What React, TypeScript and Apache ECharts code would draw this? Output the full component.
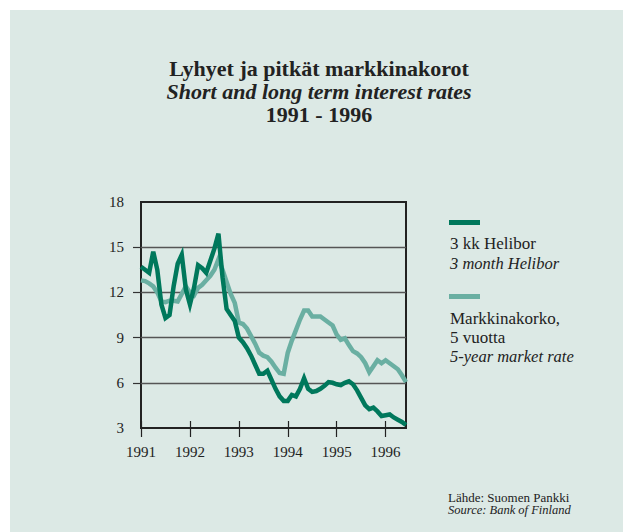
import React, { useEffect, useRef } from "react";
import * as echarts from "echarts";

const years = ["1991", "1992", "1993", "1994", "1995", "1996"];
const monthsInLastYear = 6;

// 3 kk Helibor (monthly, Jan 1991 – Jun 1996)
const helibor = [
  13.7, 13.5, 13.3, 14.7, 13.5, 11.2, 10.3, 10.5, 12.4, 13.9, 14.5, 12.2,
  11.2, 12.3, 13.8, 13.6, 13.3, 14.1, 14.9, 15.9, 13.0, 10.9, 10.5, 10.1,
  9.0, 8.7, 8.3, 7.8, 7.2, 6.6, 6.6, 6.8, 6.2, 5.6, 5.1, 4.8,
  4.8, 5.2, 5.1, 5.6, 6.3, 5.6, 5.4, 5.45, 5.6, 5.8, 6.05, 6.0,
  5.9, 5.85, 6.0, 6.1, 5.9, 5.5, 5.0, 4.5, 4.25, 4.35, 4.1, 3.8,
  3.85, 3.9, 3.7, 3.55, 3.4, 3.2,
];

// Markkinakorko, 5 vuotta
const market5y = [
  12.8, 12.75, 12.6, 12.4, 12.0, 11.4, 11.35, 11.45, 11.45, 11.4, 11.9, 12.4,
  12.0, 11.8, 12.3, 12.5, 12.8, 13.1, 13.5, 14.2, 13.5, 12.7, 11.9, 11.3,
  10.0, 9.9, 9.6, 9.1, 8.6, 8.0, 7.8, 7.7, 7.4, 7.0, 6.65, 6.6,
  8.0, 8.8, 9.5, 10.2, 10.8, 10.8, 10.4, 10.4, 10.4, 10.2, 10.0, 9.8,
  9.2, 8.85, 8.95, 8.5, 8.1, 7.95, 7.7, 7.3, 6.7, 7.1, 7.5, 7.3,
  7.5, 7.3, 7.1, 6.9, 6.5, 6.05,
];

const yTicks = [6, 9, 12, 15];

const months: string[] = [];
years.forEach((y, yi) => {
  const n = yi === years.length - 1 ? monthsInLastYear : 12;
  for (let m = 1; m <= n; m++) months.push(`${y}-${String(m).padStart(2, "0")}`);
});

const DARK = "#00785c";
const LIGHT = "#6aafa2";
const BG = "#dce9e5";
const TXT = "#222";
const FONT = "'Liberation Serif', 'DejaVu Serif', serif";

export default function App() {
  const ref = useRef<HTMLDivElement>(null);
  useEffect(() => {
    if (!ref.current) return;
    const chart = echarts.init(ref.current, undefined, { renderer: "svg" });
    const isYear = (i: number) => i % 12 === 0;
    const txt = (x: number, y: number, text: string, opts: any = {}) => ({
      type: "text",
      x,
      y,
      style: {
        text,
        fill: TXT,
        fontFamily: FONT,
        fontSize: 17,
        textVerticalAlign: "middle",
        ...opts,
      },
    });
    chart.setOption({
      animation: false,
      backgroundColor: "#ffffff",
      textStyle: { fontFamily: FONT },
      grid: {
        left: 141,
        top: 202,
        width: 265,
        height: 226,
        show: true,
        borderColor: "#222",
        borderWidth: 2,
        backgroundColor: "transparent",
      },
      xAxis: [
        {
          type: "category",
          data: months,
          boundaryGap: false,
          axisLine: { show: false },
          axisTick: {
            show: true,
            interval: (i: number) => isYear(i),
            length: 9,
            lineStyle: { color: "#222", width: 1.2 },
          },
          axisLabel: {
            interval: (i: number) => isYear(i),
            formatter: (v: string) => v.slice(0, 4),
            color: TXT,
            fontFamily: FONT,
            fontSize: 15,
            margin: 16,
          },
          splitLine: { show: false },
        },
        {
          type: "category",
          data: months,
          boundaryGap: false,
          position: "bottom",
          axisLine: { show: false },
          axisTick: {
            show: true,
            inside: true,
            interval: (i: number) => isYear(i),
            length: 7,
            lineStyle: { color: "#222", width: 1.2 },
          },
          axisLabel: { show: false },
          splitLine: { show: false },
        },
      ],
      yAxis: {
        type: "value",
        min: 3,
        max: 18,
        interval: 3,
        axisLine: { show: false },
        axisTick: {
          show: true,
          length: 8,
          customValues: yTicks,
          lineStyle: { color: "#333", width: 1.2 },
        },
        axisLabel: {
          color: TXT,
          fontFamily: FONT,
          fontSize: 15,
          margin: 17,
        },
        splitLine: { show: true, lineStyle: { color: "#555", width: 1.3 } },
      },
      series: [
        {
          name: "Markkinakorko, 5 vuotta",
          type: "line",
          data: market5y,
          showSymbol: false,
          symbol: "none",
          lineStyle: { color: LIGHT, width: 4.5, join: "miter" },
          z: 3,
        },
        {
          name: "3 kk Helibor",
          type: "line",
          data: helibor,
          showSymbol: false,
          symbol: "none",
          lineStyle: { color: DARK, width: 4.5, join: "miter" },
          z: 4,
        },
      ],
      graphic: [
        {
          type: "rect",
          z: -100,
          silent: true,
          shape: { x: 10, y: 10, width: 613, height: 522 },
          style: { fill: BG },
        },
        txt(319, 68, "Lyhyet ja pitkät markkinakorot", {
          fontSize: 22,
          fontWeight: "bold",
          textAlign: "center",
        }),
        txt(319, 91, "Short and long term interest rates", {
          fontSize: 22,
          fontWeight: "bold",
          fontStyle: "italic",
          textAlign: "center",
        }),
        txt(319, 114, "1991 - 1996", {
          fontSize: 22,
          fontWeight: "bold",
          textAlign: "center",
        }),
        {
          type: "rect",
          shape: { x: 449, y: 220, width: 31, height: 5 },
          style: { fill: DARK },
        },
        txt(450, 243, "3 kk Helibor"),
        txt(450, 263, "3 month Helibor", { fontStyle: "italic", fontSize: 16.5 }),
        {
          type: "rect",
          shape: { x: 449, y: 294, width: 31, height: 5 },
          style: { fill: LIGHT },
        },
        txt(450, 318, "Markkinakorko,"),
        txt(450, 337, "5 vuotta"),
        txt(450, 356, "5-year market rate", { fontStyle: "italic", fontSize: 16.5 }),
        txt(448, 497, "Lähde: Suomen Pankki", { fontSize: 13 }),
        txt(448, 510, "Source: Bank of Finland", { fontSize: 12.5, fontStyle: "italic" }),
      ],
    });
    return () => chart.dispose();
  }, []);
  return (
    <div
      ref={ref}
      style={{ position: "fixed", left: 0, top: 0, width: 623, height: 532 }}
    />
  );
}
